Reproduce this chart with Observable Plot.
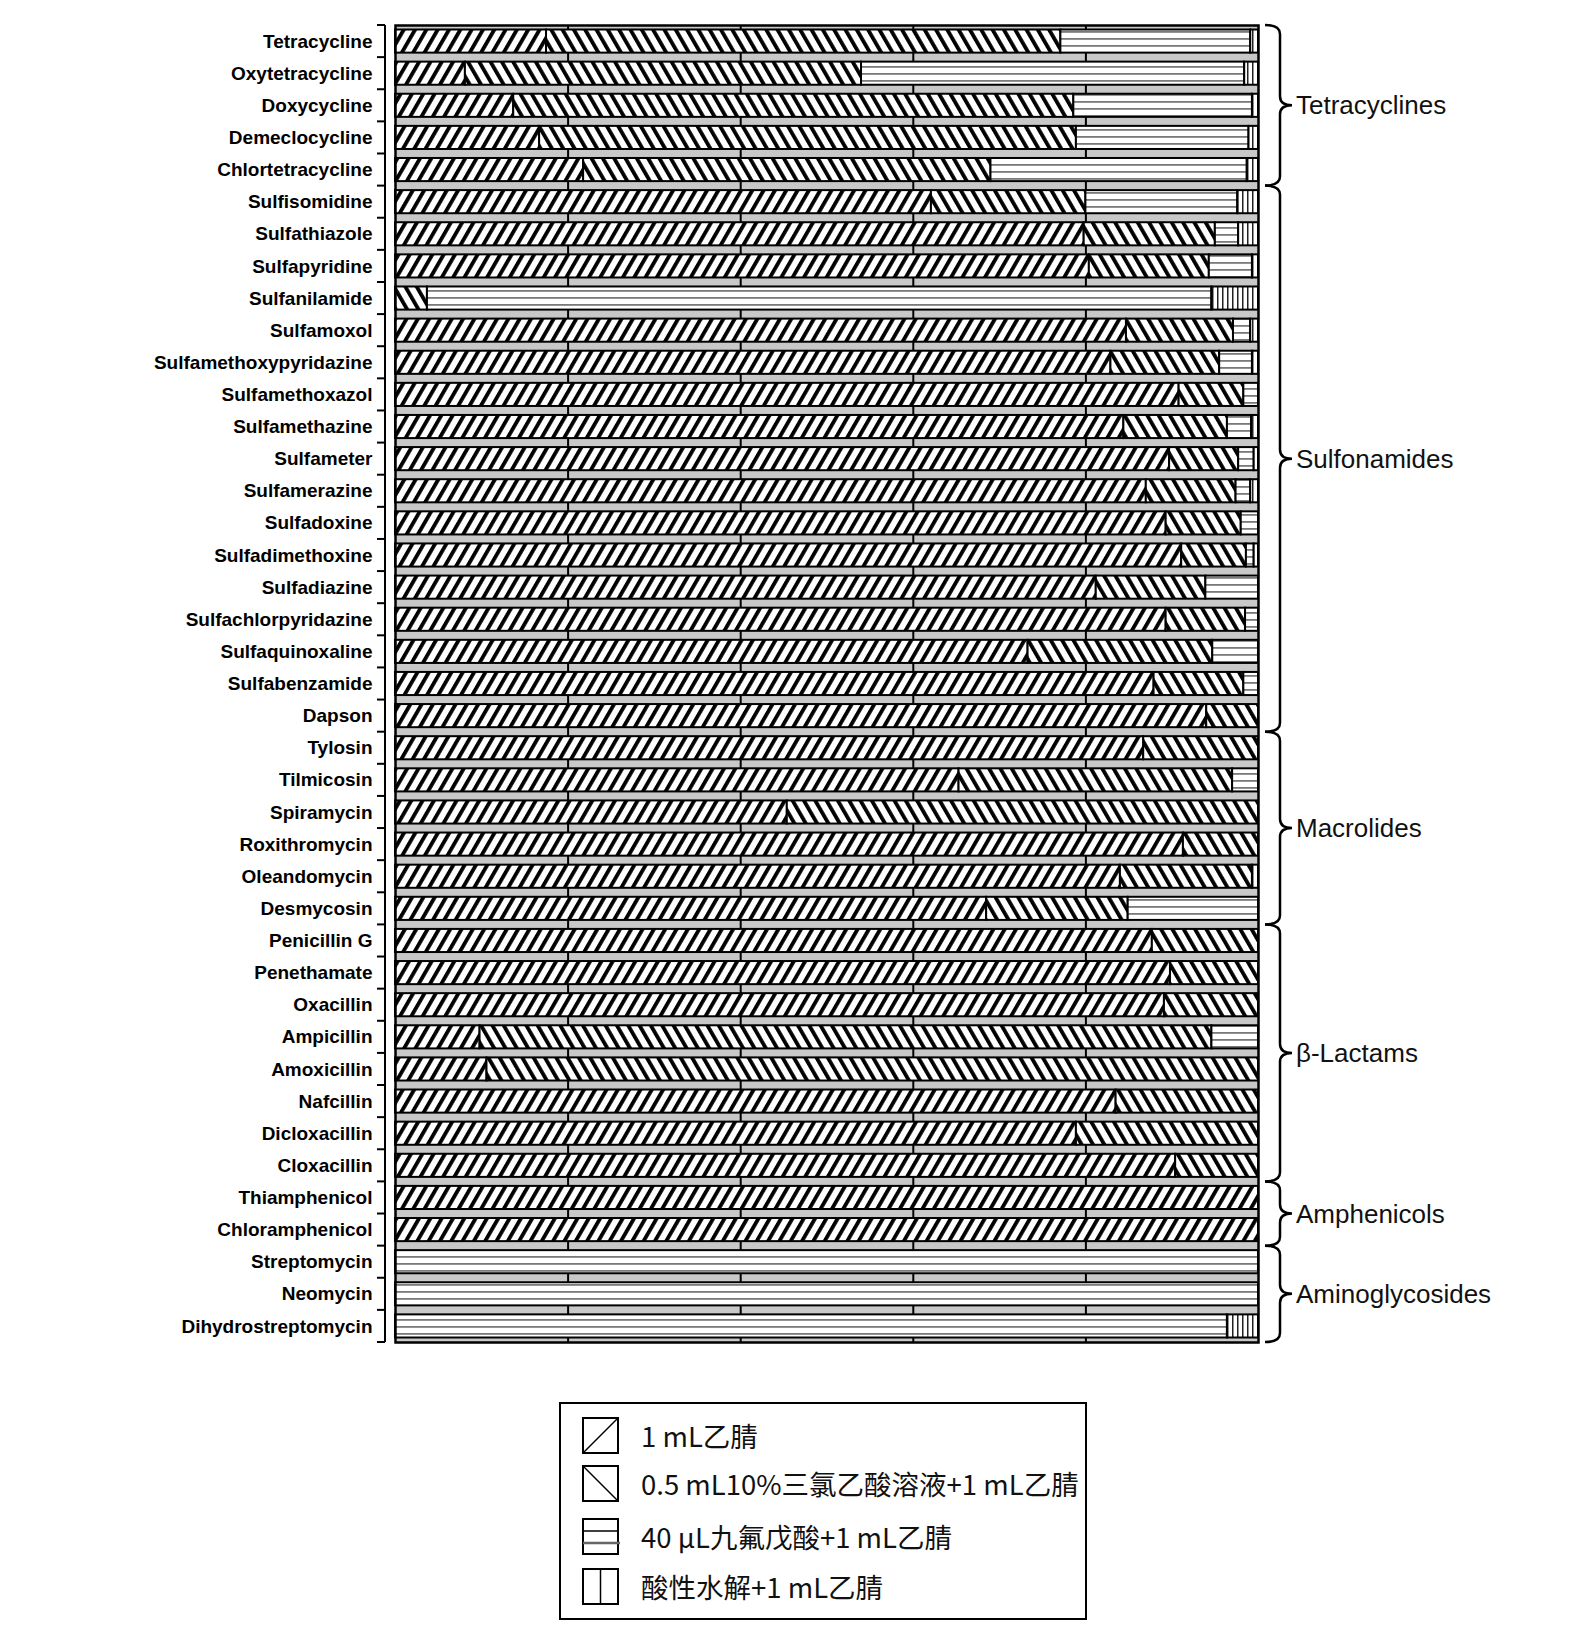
<!DOCTYPE html>
<html>
<head>
<meta charset="utf-8">
<script src="https://cdn.jsdelivr.net/npm/d3@7"></script>
<script src="https://cdn.jsdelivr.net/npm/@observablehq/plot@0.6"></script>
<style>
  body { margin: 0; background: #fff; }
  #wrap { position: relative; width: 1584px; height: 1644px; background: #fff; }
  #legend { position: absolute; left: 559px; top: 1402px; width: 528px; height: 218px;
            box-sizing: border-box; border: 2px solid #000; background: #fff; }
  .lrow { position: absolute; left: 0; height: 37px; }
  .lrow svg { position: absolute; left: 21px; top: 0; }
  .lrow span { position: absolute; left: 80px; top: 0; white-space: nowrap;
               font-family: "Noto Sans CJK SC", sans-serif; font-size: 27.5px; color: #111; line-height: 37px; }
</style>
</head>
<body>
<div id="wrap">
  <div id="chart"></div>
  <div id="legend"></div>
</div>
<script>
// ---------- data ----------
const drugs = [
  "Tetracycline","Oxytetracycline","Doxycycline","Demeclocycline","Chlortetracycline",
  "Sulfisomidine","Sulfathiazole","Sulfapyridine","Sulfanilamide","Sulfamoxol",
  "Sulfamethoxypyridazine","Sulfamethoxazol","Sulfamethazine","Sulfameter","Sulfamerazine",
  "Sulfadoxine","Sulfadimethoxine","Sulfadiazine","Sulfachlorpyridazine","Sulfaquinoxaline",
  "Sulfabenzamide","Dapson",
  "Tylosin","Tilmicosin","Spiramycin","Roxithromycin","Oleandomycin","Desmycosin",
  "Penicillin G","Penethamate","Oxacillin","Ampicillin","Amoxicillin","Nafcillin","Dicloxacillin","Cloxacillin",
  "Thiamphenicol","Chloramphenicol",
  "Streptomycin","Neomycin","Dihydrostreptomycin"
];

const methods = [
  "1 mL乙腈",
  "0.5 mL10%三氯乙酸溶液+1 mL乙腈",
  "40 μL九氟戊酸+1 mL乙腈",
  "酸性水解+1 mL乙腈"
];

// percentage contributed by each method
const acetonitrile = [17.5, 8.1, 13.7, 16.7, 21.8, 62.1, 79.8, 80.4, 0, 84.7,
  82.9, 90.8, 84.4, 89.7, 87.0, 89.3, 91.1, 81.2, 89.3, 73.3,
  87.9, 94.0,
  86.7, 65.3, 45.4, 91.3, 84.0, 68.5,
  87.7, 89.8, 89.1, 9.8, 10.6, 83.5, 78.9, 90.4,
  100, 100,
  0, 0, 0];
const tca = [59.6, 45.9, 64.9, 62.2, 47.2, 17.9, 15.2, 13.9, 3.7, 12.4,
  12.6, 7.5, 12.0, 8.0, 10.4, 8.7, 7.5, 12.7, 9.2, 21.4,
  10.4, 6.0,
  13.3, 31.7, 54.6, 8.7, 15.3, 16.4,
  12.3, 10.2, 10.9, 84.8, 89.4, 16.5, 21.1, 9.6,
  0, 0,
  0, 0, 0];
const nfpa = [22.0, 44.4, 20.7, 20.0, 29.7, 17.6, 2.7, 5.0, 90.9, 2.0,
  3.8, 1.7, 2.8, 1.8, 1.7, 2.0, 0.9, 6.1, 1.5, 5.3,
  1.7, 0,
  0, 3.0, 0, 0, 0, 15.1,
  0, 0, 0, 5.4, 0, 0, 0, 0,
  0, 0,
  100, 100, 96.4];
const hydrolysis = [0.9, 1.6, 0.7, 1.1, 1.3, 2.4, 2.3, 0.7, 5.4, 0.9,
  0.7, 0, 0.8, 0.5, 0.9, 0, 0.5, 0, 0, 0,
  0, 0,
  0, 0, 0, 0, 0.7, 0,
  0, 0, 0, 0, 0, 0, 0, 0,
  0, 0,
  0, 0, 3.6];

const groups = ["Tetracyclines","Sulfonamides","Macrolides","β-Lactams","Amphenicols","Aminoglycosides"];
const groupFirst = ["Tetracycline","Sulfisomidine","Tylosin","Penicillin G","Thiamphenicol","Streptomycin"];
const groupLast  = ["Chlortetracycline","Dapson","Desmycosin","Cloxacillin","Chloramphenicol","Dihydrostreptomycin"];

const gridTicks = [20, 40, 60, 80];

// ---------- build table ----------
const series = [acetonitrile, tca, nfpa, hydrolysis];
const patternIds = ["url(#hatchA)", "url(#hatchB)", "url(#hatchH)", "url(#hatchV)"];
const rows = [];
drugs.forEach((d, i) => series.forEach((arr, k) => {
  if (arr[i] > 0) rows.push({drug: d, method: methods[k], k, value: arr[i]});
}));

// ---------- plot ----------
const plot = Plot.plot({
  width: 1584,
  height: 1370,
  marginLeft: 395,
  marginRight: 326,
  marginTop: 25,
  marginBottom: 28,
  x: {domain: [0, 100], axis: null},
  y: {domain: drugs, axis: null, padding: 0, round: false},
  color: {type: "identity"},
  style: {fontFamily: "'Liberation Sans', Arial, sans-serif", background: "#fff", overflow: "visible"},
  marks: [
    Plot.frame({fill: "#c8c8c8", stroke: "none"}),
    Plot.ruleX(gridTicks, {stroke: "#000", strokeWidth: 2}),
    Plot.barX(rows, Plot.stackX({
      x: "value", y: "drug", z: "method", order: methods,
      fill: d => patternIds[d.k],
      stroke: "#000", strokeWidth: 2,
      insetTop: 4.5, insetBottom: 4.5
    })),
    Plot.frame({stroke: "#000", strokeWidth: 2.5}),
    Plot.axisY({anchor: "left", tickSize: 0, tickPadding: 23, fontSize: 19, fontWeight: "bold", label: null})
  ]
});

document.getElementById("chart").appendChild(plot);

// ---------- patterns ----------
const svg = d3.select(plot);
const defs = svg.insert("defs", ":first-child");
function hatch(id, angle) {
  const p = defs.append("pattern").attr("id", id).attr("patternUnits", "userSpaceOnUse")
    .attr("width", 9.8).attr("height", 20).attr("patternTransform", `rotate(${angle})`);
  p.append("rect").attr("width", 9.8).attr("height", 20).attr("fill", "#fff");
  p.append("rect").attr("x", 0).attr("width", 3.8).attr("height", 20).attr("fill", "#000");
}
hatch("hatchA", 30);
hatch("hatchB", -30);
{
  const p = defs.append("pattern").attr("id", "hatchH").attr("patternUnits", "userSpaceOnUse")
    .attr("width", 10).attr("height", 7);
  p.append("rect").attr("width", 10).attr("height", 7).attr("fill", "#fff");
  p.append("rect").attr("y", 3).attr("width", 10).attr("height", 1.8).attr("fill", "#7a7a7a");
}
{
  const p = defs.append("pattern").attr("id", "hatchV").attr("patternUnits", "userSpaceOnUse")
    .attr("width", 5).attr("height", 10);
  p.append("rect").attr("width", 5).attr("height", 10).attr("fill", "#fff");
  p.append("rect").attr("x", 2).attr("width", 1.5).attr("height", 10).attr("fill", "#222");
}

// ---------- axis line, boundary ticks, braces ----------
const ys = plot.scale("y");
const xs = plot.scale("x");
const bw = ys.bandwidth;
const x0 = xs.apply(0);
const x100 = xs.apply(100);
const bounds = drugs.map(d => ys.apply(d));
bounds.push(ys.apply(drugs[drugs.length - 1]) + bw);

const gA = svg.append("g").attr("stroke", "#000");
gA.append("line").attr("x1", x0 - 10).attr("x2", x0 - 10)
  .attr("y1", bounds[0]).attr("y2", bounds[bounds.length - 1]).attr("stroke-width", 2);
gA.selectAll("line.tk").data(bounds).join("line").attr("class", "tk")
  .attr("x1", x0 - 18).attr("x2", x0 - 10).attr("y1", d => d).attr("y2", d => d).attr("stroke-width", 2);

const gB = svg.append("g").attr("text-anchor", "start");
const hx = x100 + 7, sx = x100 + 22, tx = x100 + 34;
groups.forEach((name, i) => {
  const top = ys.apply(groupFirst[i]);
  const bot = ys.apply(groupLast[i]) + bw;
  const mid = (top + bot) / 2;
  const r = 9;
  const path = `M${hx},${top} Q${sx},${top} ${sx},${top + r} L${sx},${mid - r} Q${sx},${mid} ${tx},${mid} ` +
               `Q${sx},${mid} ${sx},${mid + r} L${sx},${bot - r} Q${sx},${bot} ${hx},${bot}`;
  gB.append("path").attr("d", path).attr("fill", "none").attr("stroke", "#000").attr("stroke-width", 2.5);
  gB.append("text").attr("x", tx + 4).attr("y", mid).attr("dy", "0.35em")
    .attr("text-anchor", "start")
    .attr("font-size", 26).attr("font-weight", "normal")
    .attr("font-family", "'Liberation Sans', Arial, sans-serif").attr("fill", "#111").text(name);
});

// ---------- legend ----------
const legend = d3.select("#legend");
const rowTops = [12.5, 60.5, 113.5, 163.5];
methods.forEach((m, k) => {
  const row = legend.append("div").attr("class", "lrow").style("top", rowTops[k] + "px");
  const s = row.append("svg").attr("width", 40).attr("height", 37);
  s.append("rect").attr("x", 1).attr("y", 1).attr("width", 35).attr("height", 35)
    .attr("fill", "#fff").attr("stroke", "#000").attr("stroke-width", 2);
  if (k === 0) s.append("line").attr("x1", 1).attr("y1", 36).attr("x2", 36).attr("y2", 1).attr("stroke", "#000").attr("stroke-width", 1.5);
  if (k === 1) s.append("line").attr("x1", 1).attr("y1", 1).attr("x2", 36).attr("y2", 36).attr("stroke", "#000").attr("stroke-width", 1.5);
  if (k === 2) {
    s.append("line").attr("x1", 1).attr("y1", 13).attr("x2", 36).attr("y2", 13).attr("stroke", "#000").attr("stroke-width", 1.5);
    s.append("line").attr("x1", 1).attr("y1", 25).attr("x2", 38).attr("y2", 25).attr("stroke", "#666").attr("stroke-width", 2.5);
  }
  if (k === 3) s.append("line").attr("x1", 18.5).attr("y1", 1).attr("x2", 18.5).attr("y2", 36).attr("stroke", "#000").attr("stroke-width", 1.5);
  row.append("span").text(m);
});
</script>
</body>
</html>
